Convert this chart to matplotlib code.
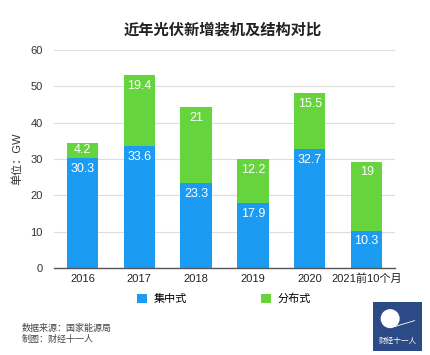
import matplotlib.pyplot as plt
import numpy as np
from matplotlib.patches import Rectangle, Circle

plt.rcParams['font.family'] = ['Liberation Sans', 'Noto Sans CJK SC', 'DejaVu Sans']

years = ['2016', '2017', '2018', '2019', '2020', '2021前10个月']
central = [30.3, 33.6, 23.3, 17.9, 32.7, 10.3]
distributed = [4.2, 19.4, 21, 12.2, 15.5, 19]

blue = '#1b9cf2'
green = '#66d43c'

fig = plt.figure(figsize=(4.31, 3.55), dpi=100)
ax = fig.add_axes([54/431, 1 - 268/355, 341/431, 218/355])

x = np.arange(len(years))
w = 0.55
ax.bar(x, central, w, color=blue, label='集中式', zorder=2)
ax.bar(x, distributed, w, bottom=central, color=green, label='分布式', zorder=2)

# value labels near the top of each segment
for i in range(len(years)):
    ax.text(x[i], central[i] - 3, f'{central[i]:g}', ha='center', va='center',
            color='white', fontsize=9)
    top = central[i] + distributed[i]
    ax.text(x[i], top - min(3, distributed[i] / 2), f'{distributed[i]:g}',
            ha='center', va='center', color='white', fontsize=9)

ax.set_ylim(0, 60)
ax.set_xlim(-0.5, len(years) - 0.5)
ax.set_yticks(range(0, 61, 10))
ax.set_xticks(x)
ax.set_xticklabels(years, fontsize=8)
ax.tick_params(axis='y', labelsize=8, length=0, pad=8, colors='#333333')
ax.tick_params(axis='x', length=0, pad=4, colors='#222222')
ax.grid(axis='y', color='#dddddd', linewidth=0.8, zorder=0)
for s in ['top', 'right', 'left']:
    ax.spines[s].set_visible(False)
ax.spines['bottom'].set_color('#555555')
ax.spines['bottom'].set_linewidth(1.0)
ax.set_ylabel('单位：GW', fontsize=8, color='#333333', labelpad=6)

fig.text(223/431, 1 - 30/355, '近年光伏新增装机及结构对比', ha='center', va='center',
         fontsize=11, fontweight='bold', color='#222222')

leg = fig.legend(loc='center', bbox_to_anchor=(224/431, 1 - 299/355), ncol=2,
                 frameon=False, fontsize=8, handlelength=0.9, handleheight=0.9,
                 columnspacing=6.7, handletextpad=0.6)

fig.text(22/431, 1 - 328/355, '数据来源：国家能源局', fontsize=6.5, color='#444444', va='center')
fig.text(22/431, 1 - 339/355, '制图：财经十一人', fontsize=6.5, color='#444444', va='center')

# logo box
logo = fig.add_axes([373/431, 1 - 351/355, 49/431, 49/355])
logo.set_xlim(0, 1)
logo.set_ylim(0, 1)
logo.axis('off')
logo.add_patch(Rectangle((0, 0), 1, 1, color='#2c4a86'))
logo.add_patch(Circle((0.35, 0.66), 0.18, facecolor='white', edgecolor='white'))
logo.plot([0.45, 0.85], [0.5, 0.62], color='white', lw=0.6)
logo.text(0.5, 0.2, '财经十一人', ha='center', va='center', color='white', fontsize=5.5)

fig.savefig('out.png', dpi=100)
